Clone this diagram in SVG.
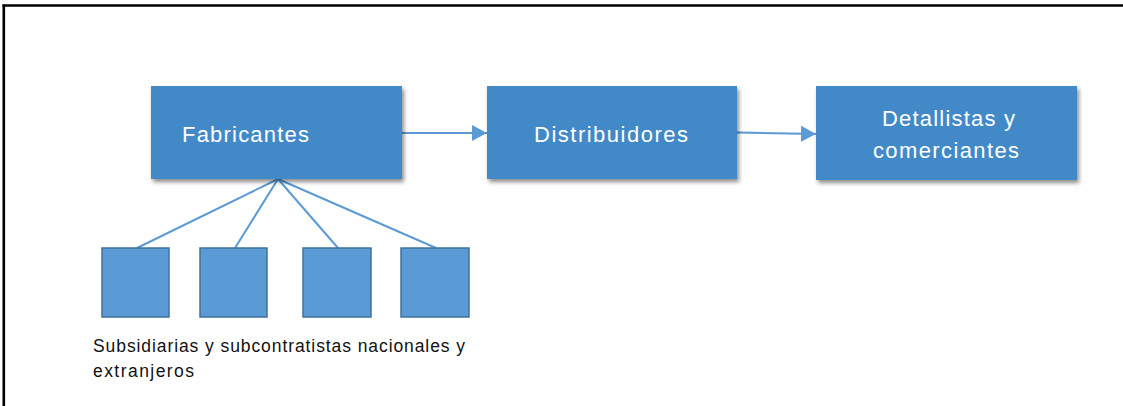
<svg xmlns="http://www.w3.org/2000/svg" width="1123" height="406" viewBox="0 0 1123 406">
<defs>
<style>
.box{fill:#4389C8;filter:url(#sh);}
.btxt{fill:#FFFFFF;font-family:"Liberation Sans","Open Sans",sans-serif;font-size:22px;}
.sq{fill:#5B9BD5;stroke:#41719C;stroke-width:1.5;}
.con{stroke:#5B9BD5;stroke-width:2;fill:none;}
.lbl{fill:#111111;font-family:"Liberation Sans","Open Sans",sans-serif;font-size:17.5px;}
</style>
<filter id="sh" x="-10%" y="-10%" width="130%" height="140%">
<feDropShadow dx="2" dy="3" stdDeviation="2.2" flood-color="#000" flood-opacity="0.45"/>
</filter>
<marker id="ah" viewBox="0 0 15 16" refX="15" refY="8" markerWidth="15" markerHeight="16" markerUnits="userSpaceOnUse" orient="auto">
<path d="M0,0 L15,8 L0,16 Z" fill="#5B9BD5"/>
</marker>
</defs>
<rect width="1123" height="406" fill="#FFFFFF"/>
<g id="frame">
<line x1="2.5" y1="5.5" x2="1123" y2="5.5" stroke="#000" stroke-width="2.6"/>
<line x1="3.8" y1="4.5" x2="3.8" y2="406" stroke="#000" stroke-width="2.6"/>
</g>
<g id="connectors">
<line class="con" x1="402" y1="133" x2="487" y2="133" marker-end="url(#ah)"/>
<line class="con" x1="737" y1="132.5" x2="816" y2="134" marker-end="url(#ah)"/>
<line class="con" x1="278" y1="179" x2="137" y2="248"/>
<line class="con" x1="278" y1="179" x2="235" y2="248"/>
<line class="con" x1="278" y1="179" x2="338" y2="248"/>
<line class="con" x1="278" y1="179" x2="436" y2="248"/>
</g>
<g id="fabricantes">
<rect class="box" x="151" y="86" width="251" height="93"/>
<text class="btxt" x="182" y="142" textLength="127" lengthAdjust="spacing">Fabricantes</text>
</g>
<g id="distribuidores">
<rect class="box" x="487" y="86" width="250" height="93"/>
<text class="btxt" x="534" y="142" textLength="154" lengthAdjust="spacing">Distribuidores</text>
</g>
<g id="detallistas">
<rect class="box" x="816" y="86" width="261" height="94"/>
<text class="btxt" x="882" y="126" textLength="133" lengthAdjust="spacing">Detallistas y</text>
<text class="btxt" x="873" y="158" textLength="146" lengthAdjust="spacing">comerciantes</text>
</g>
<g id="sub1"><rect class="sq" x="102" y="248" width="67" height="69"/></g>
<g id="sub2"><rect class="sq" x="200" y="248" width="67" height="69"/></g>
<g id="sub3"><rect class="sq" x="303" y="248" width="68" height="69"/></g>
<g id="sub4"><rect class="sq" x="401" y="248" width="68" height="69"/></g>
<g id="label">
<text class="lbl" x="93" y="352" textLength="372" lengthAdjust="spacing">Subsidiarias y subcontratistas nacionales y</text>
<text class="lbl" x="93" y="377" textLength="101" lengthAdjust="spacing">extranjeros</text>
</g>
</svg>
